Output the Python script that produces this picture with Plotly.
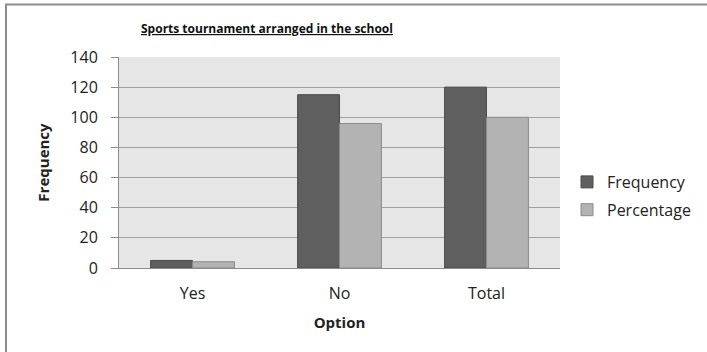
import plotly.graph_objects as go

categories = ["Yes", "No", "Total"]
frequency = [5, 115, 120]
percentage = [4.17, 95.83, 100]
y_ticks = [0, 20, 40, 60, 80, 100, 120, 140]

W, H = 707, 352
L, R, T, B = 119, 147, 57, 84
pw, ph = W - L - R, H - T - B

def px_x(p):
    return (p - L) / pw

def px_y(p):
    return (H - B - p) / ph

FONT = "'Open Sans', sans-serif"

fig = go.Figure()
fig.add_trace(go.Bar(name="Frequency", x=categories, y=frequency, legendgroup="f",
                     marker=dict(color="#5f5f5f", line=dict(color="#4a4a4a", width=1))))
fig.add_trace(go.Bar(name="Percentage", x=categories, y=percentage, legendgroup="p",
                     marker=dict(color="#b3b3b3", line=dict(color="#8a8a8a", width=1))))

fig.update_layout(
    width=W, height=H,
    margin=dict(l=L, r=R, t=T, b=B, pad=0, autoexpand=False),
    paper_bgcolor="white",
    plot_bgcolor="#e6e6e6",
    barmode="group",
    bargap=0.43,
    bargroupgap=0,
    font=dict(family=FONT, size=16, color="#222222"),
    showlegend=True,
    legend=dict(x=px_x(567), y=px_y(165), xanchor="left", yanchor="top",
                font=dict(size=16, color="#222222"), tracegroupgap=4,
                itemwidth=30, bgcolor="rgba(0,0,0,0)"),
    xaxis=dict(range=[-0.5, 2.5], showline=True, linecolor="#8c8c8c", linewidth=1,
               ticks="", tickfont=dict(size=16), ticklabelstandoff=11,
               title=dict(text="<b>Option</b>", font=dict(size=15), standoff=14)),
    yaxis=dict(range=[0, 140], tickvals=y_ticks, showline=True, linecolor="#8c8c8c",
               linewidth=1, ticks="outside", ticklen=7, tickcolor="#8c8c8c",
               showgrid=True, gridcolor="#a0a0a0", gridwidth=1, zeroline=False,
               tickfont=dict(size=16), ticklabelstandoff=10,
               title=dict(text="<b>Frequency</b>", font=dict(size=15), standoff=17)),
)

fig.add_annotation(text="<b><u>Sports tournament arranged in the school</u></b>",
                   xref="paper", yref="paper", x=px_x(267), y=px_y(28),
                   xanchor="center", yanchor="middle", showarrow=False,
                   font=dict(size=12, color="#111111"))

fig.add_shape(type="line", xref="paper", yref="paper",
              x0=px_x(6), x1=px_x(6), y0=px_y(4.5), y1=px_y(360),
              line=dict(color="#8c8c8c", width=2))
fig.add_shape(type="line", xref="paper", yref="paper",
              x0=px_x(5), x1=px_x(720), y0=px_y(4.5), y1=px_y(4.5),
              line=dict(color="#8c8c8c", width=2))

fig.write_html("out.html")
